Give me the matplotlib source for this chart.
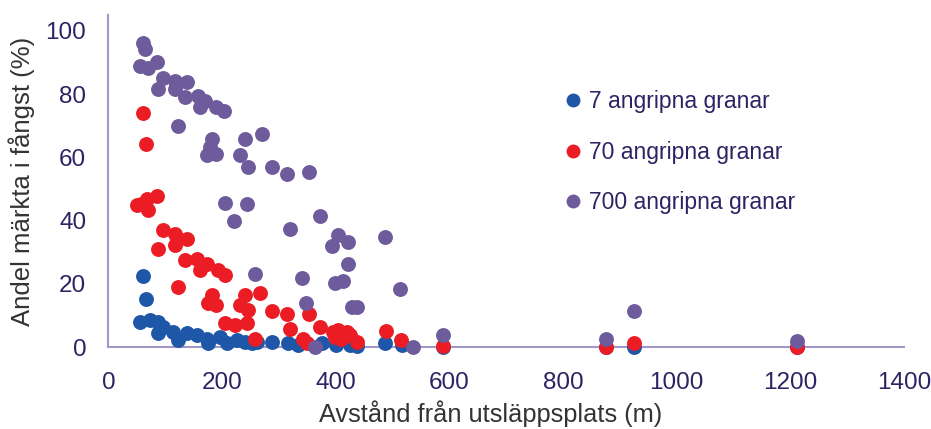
import matplotlib.pyplot as plt
from matplotlib.lines import Line2D

plt.rcParams['font.family'] = ['Liberation Sans', 'DejaVu Sans']

#--- data: distance (m) and share marked (%)
blue_x = [60, 66, 55, 73, 88, 96, 114, 123, 138, 155, 173, 176, 196, 208, 226,
          240, 252, 88, 261, 287, 316, 334, 375, 401, 425, 437, 486, 516, 589,
          875, 925, 1211]
blue_y = [22.4, 15.3, 8.0, 8.5, 8.0, 6.4, 4.8, 2.2, 4.3, 3.8, 2.7, 1.2, 3.2, 1.2, 2.2,
          1.7, 1.2, 4.3, 1.7, 1.7, 1.2, 0.6, 1.2, 0.6, 0.6, 0.4, 1.2, 0.6, 0.1,
          0.0, 0.0, 0.0]

red_x = [60, 66, 50, 58, 70, 67, 86, 96, 117, 138, 88, 117, 135, 155, 161, 173,
         193, 205, 122, 182, 176, 190, 240, 267, 231, 246, 287, 314, 353, 205,
         223, 243, 319, 258, 373, 343, 396, 404, 419, 425, 437, 398, 410, 349,
         488, 514, 589, 875, 925, 1211]
red_y = [73.9, 64.3, 44.8, 45.3, 43.2, 46.9, 47.9, 36.9, 35.9, 34.3, 31.1, 32.2,
         27.4, 28.0, 24.3, 26.4, 24.3, 22.7, 19.0, 16.4, 13.8, 13.2, 16.4, 17.2,
         13.2, 11.7, 11.5, 10.6, 10.6, 7.5, 6.9, 7.5, 5.7, 2.5, 6.5, 2.7, 4.8,
         5.4, 4.8, 3.8, 1.5, 3.2, 2.7, 1.2, 5.0, 2.2, 0.4, 0.1, 1.4, 0.1]

purple_x = [60, 65, 55, 70, 85, 96, 117, 138, 87, 117, 135, 157, 170, 161, 190,
            203, 122, 182, 179, 190, 173, 240, 270, 231, 245, 287, 314, 353, 373,
            319, 404, 394, 422, 486, 422, 340, 398, 413, 513, 347, 428, 437, 363,
            536, 589, 205, 243, 221, 258, 875, 925, 1211]
purple_y = [96.0, 94.2, 89.0, 88.4, 90.0, 85.2, 84.2, 83.7, 81.7, 81.7, 79.0,
            79.5, 77.9, 75.8, 75.8, 74.8, 70.0, 65.9, 63.2, 61.2, 60.6, 65.9,
            67.5, 60.6, 56.9, 56.9, 54.8, 55.3, 41.6, 37.2, 35.3, 32.0, 33.2,
            34.8, 26.2, 21.7, 20.1, 20.8, 18.3, 14.0, 12.7, 12.7, 0.1, 0.1, 3.8,
            45.6, 45.3, 39.8, 23.2, 2.7, 11.5, 2.0]

labels = ['7 angripna granar', '70 angripna granar', '700 angripna granar']
colors = ['#1f57a8', '#ec1c24', '#6e5b9b']

#--- figure
fig = plt.figure(figsize=(9.31, 4.29), dpi=100)
ax = fig.add_axes([0.1165, 0.191, 0.8545, 0.774])

ax.scatter(blue_x, blue_y, s=115, color=colors[0], linewidths=0, zorder=3, clip_on=False)
ax.scatter(red_x, red_y, s=115, color=colors[1], linewidths=0, zorder=4, clip_on=False)
ax.scatter(purple_x, purple_y, s=115, color=colors[2], linewidths=0, zorder=5, clip_on=False)

ax.set_xlim(0, 1400)
ax.set_ylim(0, 105)
ax.set_xticks(range(0, 1401, 200))
ax.set_yticks(range(0, 101, 20))

for side in ['top', 'right']:
    ax.spines[side].set_visible(False)
for side in ['left', 'bottom']:
    ax.spines[side].set_color('#a197c8')
    ax.spines[side].set_linewidth(1.5)
    ax.spines[side].set_zorder(2)

ax.tick_params(axis='both', length=0, labelsize=17.5, labelcolor='#2d2363')
ax.tick_params(axis='x', pad=18)
ax.tick_params(axis='y', pad=16)

ax.set_xlabel('Avstånd från utsläppsplats (m)', fontsize=18.3, color='#333333')
ax.xaxis.set_label_coords(0.48, -0.16)
ax.set_ylabel('Andel märkta i fångst (%)', fontsize=18.5, color='#333333')
ax.yaxis.set_label_coords(-0.092, 0.5)

#--- legend
handles = [Line2D([], [], ls='', marker='o', markersize=10, color=c, mec='none')
           for c in colors]
leg = ax.legend(handles, labels, loc='upper left', bbox_to_anchor=(0.561, 0.808),
                frameon=False, fontsize=16.5, handlelength=0.6,
                handletextpad=0.4, labelspacing=1.2, borderpad=0)
for t in leg.get_texts():
    t.set_color('#2d2363')

fig.savefig('out.png', dpi=100)
